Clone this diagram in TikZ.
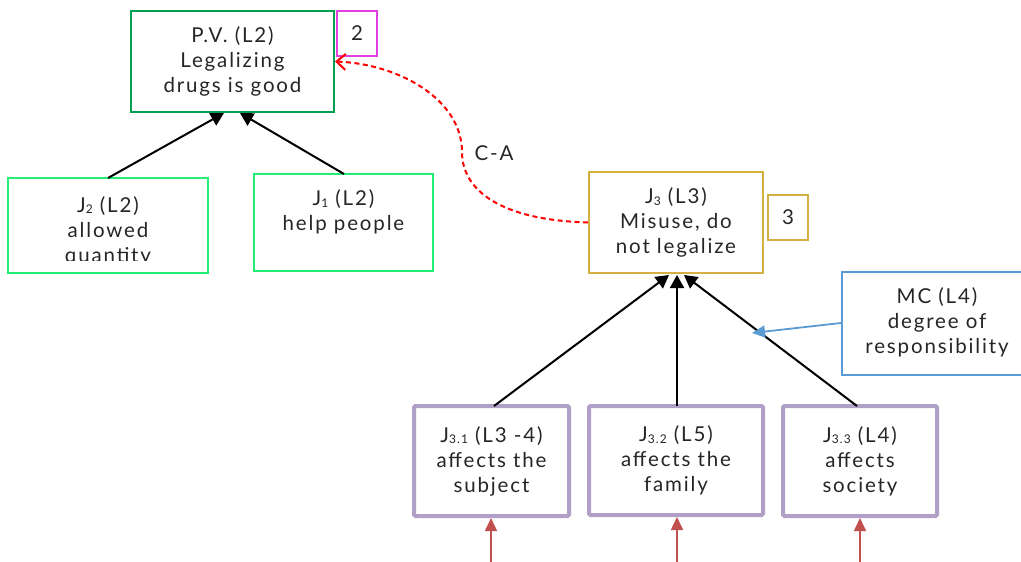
\documentclass[tikz,border=0pt]{standalone}
\usepackage{fontspec}
\setmainfont{Lato}[LetterSpace=9]
\usetikzlibrary{arrows.meta}
\definecolor{pvgreen}{HTML}{00A050}
\definecolor{jgreen}{HTML}{22EE77}
\definecolor{gold}{HTML}{D4B040}
\definecolor{mcblue}{HTML}{5B9BD5}
\definecolor{lilac}{HTML}{B0A0C8}
\definecolor{pink}{HTML}{E040E0}
\definecolor{brick}{HTML}{C0504D}
\newcommand{\sbs}[1]{\raisebox{-1.5pt}{\fontsize{12}{12}\selectfont #1}}
\tikzset{
  x=1pt, y=-1pt,
  every node/.style={font=\fontsize{20.5}{25}\selectfont, text=black!85, align=center, inner sep=0pt},
  box/.style={draw, line width=2pt, minimum width=#1, fill=white},
  numbox/.style={draw, line width=1.4pt, minimum width=40pt, minimum height=45pt},
  support/.style={line width=2pt, draw=black, -{Triangle[length=13pt,width=14pt]}},
  inarrow/.style={line width=1.6pt, draw=brick, -{Triangle[length=13pt,width=12pt]}},
}
\begin{document}
\begin{tikzpicture}
\useasboundingbox (0,0) rectangle (1021,562);
% top
\node[box=203pt, minimum height=101pt, draw=pvgreen] (pv) at (232.5,61.5) {P.V. (L2)\\Legalizing\\drugs is good};
\node[numbox, draw=pink] (n2) at (357,33.5) {2};
% J2 box with clipped text
\node[box=200pt, minimum height=95pt, draw=jgreen, line width=2.2pt] (j2) at (108,225.5) {};
\begin{scope}
\clip (10,180) rectangle (206,260);
\node (j2t) at (108,231) {J\sbs{2} (L2)\\allowed\\quantity};
\end{scope}
\node[box=179pt, minimum height=97pt, draw=jgreen, line width=2.2pt] (j1) at (343.5,222.5) {};
\node (j1t) at (343.5,212) {J\sbs{1} (L2)\\help people};
% J3
\node[box=174pt, minimum height=101pt, draw=gold] (j3) at (676,222.5) {J\sbs{3} (L3)\\Misuse, do\\not legalize};
\node[numbox, draw=gold, line width=1.8pt] (n3) at (788,217.5) {3};
% MC
\node[box=190pt, minimum height=103pt, draw=mcblue] (mc) at (937,323.5) {};
\node (mct) at (937,322) {MC (L4)\\degree of\\responsibility};
% bottom
\node[box=155pt, minimum height=110pt, draw=lilac, line width=4pt, rounded corners=1.5pt] (j31) at (491.5,461) {J\sbs{3.1} (L3 -4)\\affects the\\subject};
\node[box=174pt, minimum height=109pt, draw=lilac, line width=4pt, rounded corners=1.5pt] (j32) at (676,460.5) {J\sbs{3.2} (L5)\\affects the\\family};
\node[box=154pt, minimum height=110pt, draw=lilac, line width=4pt, rounded corners=1.5pt] (j33) at (860,461) {J\sbs{3.3} (L4)\\affects\\society};
% supports
\coordinate (pvA) at (224,113);
\coordinate (pvB) at (240,113);
\draw[support] (108,178) -- (pvA);
\draw[support] (344,174) -- (pvB);
\coordinate (j3A) at (669,275);
\coordinate (j3B) at (677,275);
\coordinate (j3C) at (684,275);
\draw[support] (494,406) -- (j3A);
\draw[support] (677,406) -- (j3B);
\draw[support] (857,406) -- (j3C);
% MC arrow
\coordinate (mcT) at (752,333);
\draw[line width=1.8pt, draw=mcblue, -{Triangle[length=13pt,width=12pt]}] (mc.west |- 0,323) -- (mcT);
% incoming
\coordinate (b1) at (491,562);
\coordinate (b2) at (677,562);
\coordinate (b3) at (860,562);
\draw[inarrow] (b1) -- (j31.south -| b1);
\draw[inarrow] (b2) -- (j32.south -| b2);
\draw[inarrow] (b3) -- (j33.south -| b3);
% C-A dashed
\draw[draw=red, line width=2pt, dash pattern=on 5pt off 3.5pt, -{Straight Barb[length=9pt,width=16pt]}]
  (j3.west) .. controls (500,220) and (462,190) .. (462,152)
  .. controls (462,100) and (400,64) .. (pv.east);
\node (ca) at (494,153) {C-A};
\end{tikzpicture}
\end{document}
